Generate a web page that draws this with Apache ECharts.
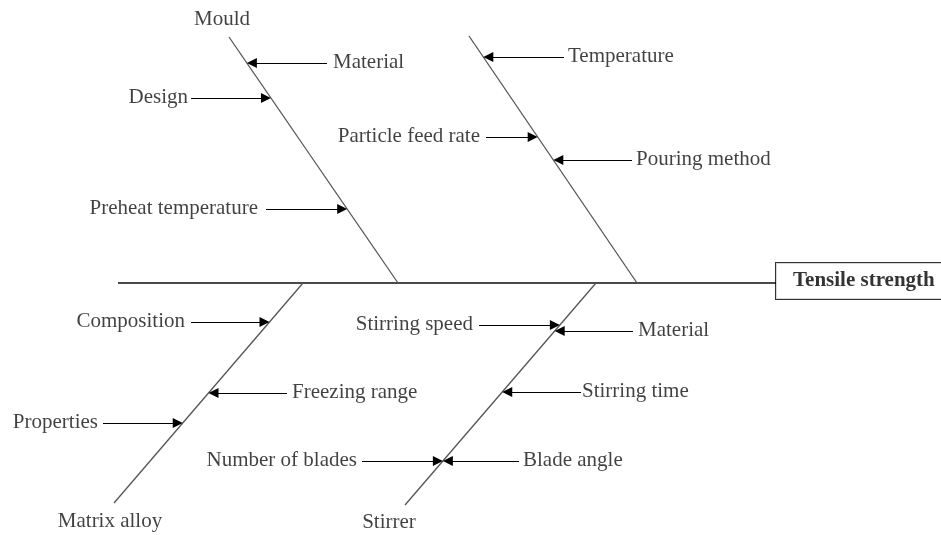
<!DOCTYPE html>
<html>
<head>
<meta charset="utf-8">
<script src="https://cdn.jsdelivr.net/npm/echarts@6/dist/echarts.min.js"></script>
<style>html,body{margin:0;padding:0;background:#fff}#c{width:941px;height:535px}</style>
</head>
<body>
<div id="c"></div>
<script>
// ---- Diagram content ----
const effect = 'Tensile strength';
const boneNames = ['Mould', '', 'Matrix alloy', 'Stirrer'];
const causesMould = ['Material', 'Design', 'Preheat temperature'];
const causesTemp = ['Temperature', 'Particle feed rate', 'Pouring method'];
const causesMatrix = ['Composition', 'Freezing range', 'Properties'];
const causesStirrer = ['Stirring speed', 'Material', 'Stirring time', 'Number of blades', 'Blade angle'];

// ---- Layout (diagram units = the value axes below) ----
const spineY = 283, spineX0 = 118, spineX1 = 776;
const bones = [
  {outer: [229, 37], inner: [398, 283], labelAt: [222, 19]},
  {outer: [469, 36], inner: [637, 283], labelAt: null},
  {outer: [114, 503], inner: [303, 283], labelAt: [110, 521]},
  {outer: [405, 505], inner: [596, 283], labelAt: [389, 522]}
];
// per cause: level y, side the label sits on, tail x, gap to label
const causeLayout = [
  [{y: 63, side: 'right', tail: 327, gap: 6}, {y: 98, side: 'left', tail: 191, gap: 3}, {y: 209, side: 'left', tail: 266, gap: 8}],
  [{y: 57, side: 'right', tail: 564, gap: 4}, {y: 137, side: 'left', tail: 486, gap: 6}, {y: 160, side: 'right', tail: 632, gap: 4}],
  [{y: 322, side: 'left', tail: 191, gap: 6}, {y: 393, side: 'right', tail: 287, gap: 5}, {y: 423, side: 'left', tail: 103, gap: 5}],
  [{y: 325, side: 'left', tail: 479, gap: 6}, {y: 331, side: 'right', tail: 633, gap: 5}, {y: 392, side: 'right', tail: 581, gap: 1},
   {y: 461, side: 'left', tail: 362, gap: 5}, {y: 461, side: 'right', tail: 519, gap: 4}]
];
const causeLists = [causesMould, causesTemp, causesMatrix, causesStirrer];
const headSize = 10;

function boneXAt(b, y) {
  const [x1, y1] = b.outer, [x2, y2] = b.inner;
  return x1 + (x2 - x1) * (y - y1) / (y2 - y1);
}

const boneLines = bones.map(b => ({coords: [b.outer, b.inner]}));
const arrowLines = [];
const causeLabels = [];
causeLists.forEach((list, i) => {
  list.forEach((name, j) => {
    const L = causeLayout[i][j];
    const bx = boneXAt(bones[i], L.y);
    // triangle head is centred on the line end, so stop half a head short of the bone
    const tip = L.side === 'left' ? bx - headSize / 2 : bx + headSize / 2;
    arrowLines.push({coords: [[L.tail, L.y], [tip, L.y]]});
    causeLabels.push({
      name: name,
      value: [L.side === 'left' ? L.tail - L.gap : L.tail + L.gap, L.y - 1],
      label: {position: L.side, distance: 0}
    });
  });
});
const boneLabels = bones.filter((b, i) => b.labelAt && boneNames[i]).map(b => ({
  name: boneNames[bones.indexOf(b)], value: b.labelAt, label: {position: 'inside'}
}));

const font = {fontFamily: '"Liberation Serif", "DejaVu Serif", serif', fontSize: 21, color: '#111'};

const chart = echarts.init(document.getElementById('c'), null, {renderer: 'canvas'});
chart.setOption({
  animation: false,
  backgroundColor: '#fff',
  grid: {left: 0, right: 0, top: 0, bottom: 0},
  xAxis: {type: 'value', min: 0, max: 941, show: false},
  yAxis: {type: 'value', min: 0, max: 535, inverse: true, show: false},
  series: [
    {
      type: 'lines', coordinateSystem: 'cartesian2d', silent: true,
      lineStyle: {color: '#4a4a4a', width: 2, opacity: 1},
      data: [{coords: [[spineX0, spineY], [spineX1, spineY]]}]
    },
    {
      type: 'lines', coordinateSystem: 'cartesian2d', silent: true,
      lineStyle: {color: '#555', width: 1.3, opacity: 1},
      data: boneLines
    },
    {
      type: 'lines', coordinateSystem: 'cartesian2d', silent: true,
      symbol: ['none', 'triangle'], symbolSize: [0, headSize],
      lineStyle: {color: '#000', width: 1.2, opacity: 1},
      itemStyle: {color: '#000'},
      data: arrowLines
    },
    {
      type: 'scatter', symbolSize: 0, silent: true,
      label: Object.assign({show: true, formatter: '{b}'}, font),
      data: causeLabels.concat(boneLabels)
    },
    {
      type: 'scatter', symbolSize: 0, silent: true,
      label: Object.assign({}, font, {
        show: true, formatter: '{b}', position: 'right', distance: 0,
        fontWeight: 'bold', color: '#000', lineHeight: 21,
        borderColor: '#000', borderWidth: 1, backgroundColor: '#fff',
        padding: [8, 40, 7, 17]
      }),
      data: [{name: effect, value: [spineX1, 281]}]
    }
  ]
});
</script>
</body>
</html>
